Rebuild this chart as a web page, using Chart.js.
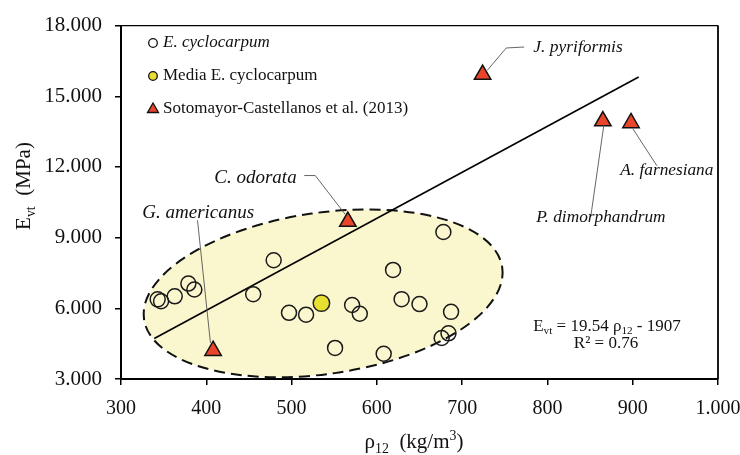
<!DOCTYPE html>
<html><head><meta charset="utf-8">
<script src="https://cdn.jsdelivr.net/npm/chart.js@4.4.1/dist/chart.umd.min.js"></script>
<style>html,body{margin:0;padding:0;background:#fff;}#wrap{width:740px;height:455px;}</style>
</head><body><div id="wrap"><canvas id="c" width="740" height="455"></canvas></div>
<script>
// ---- data ----
const cycloX = [343, 347, 363, 379, 386, 455, 479, 497, 517, 571, 580, 551, 619, 629, 650, 608, 678, 687, 684, 676];
const cycloY = [6380, 6300, 6510, 7050, 6800, 6600, 8040, 5810, 5730, 6140, 5770, 4320, 7630, 6390, 6180, 4070, 9240, 5850, 4940, 4740];
const mediaX = [535];
const mediaY = [6220];
const sotoNames = ['G. americanus', 'C. odorata', 'J. pyriformis', 'P. dimorphandrum', 'A. farnesiana'];
const sotoX = [408, 566, 724, 865, 898];
const sotoY = [4200, 9680, 15920, 13950, 13870];
const fitX = [339, 907];
const fitY = [4717, 15816];
const xTicks = [300, 400, 500, 600, 700, 800, 900, 1000];
const xTickLabels = ['300', '400', '500', '600', '700', '800', '900', '1.000'];
const yTicks = [3000, 6000, 9000, 12000, 15000, 18000];
const yTickLabels = ['3.000', '6.000', '9.000', '12.000', '15.000', '18.000'];
const legendLabels = ['E. cyclocarpum', 'Media E. cyclocarpum', 'Sotomayor-Castellanos et al. (2013)'];

// ---- annotation layout (data units) ----
const FONT = '"Liberation Serif", "Times New Roman", Times, serif';
const ELLIPSE = { center: [537, 6636], major: [747, 7736], minor: [551.5, 10017] };
const NOTES = [
  { text: sotoNames[0], size: 19, at: [325, 10066], path: [[389.7, 9736], [404.9, 4529]] },
  { text: sotoNames[1], size: 19, at: [409.4, 11512], path: [[514.9, 11636], [527.8, 11636], [563, 9983]] },
  { text: sotoNames[2], size: 17.5, at: [783.4, 17091], path: [[729.4, 16099], [751.7, 17050], [772.8, 17091]] },
  { text: sotoNames[3], size: 17.3, at: [786.9, 9860], path: [[866.2, 13785], [851, 9942]] },
  { text: sotoNames[4], size: 17.3, at: [885.4, 11843], path: [[900.2, 13620], [928.4, 12050]] }
];

function P(chart, x, y) { return [chart.scales.x.getPixelForValue(x), chart.scales.y.getPixelForValue(y)]; }

function drawRuns(ctx, runs, x, y, size, style, align) {
  let total = 0;
  const parts = runs.map(([t, k]) => {
    const s = k === 'n' ? size : size * 0.66;
    ctx.font = `${style} ${s}px ${FONT}`;
    const w = ctx.measureText(t).width;
    total += w;
    return { t, k, s, w };
  });
  let cx = align === 'center' ? x - total / 2 : x;
  ctx.textBaseline = 'alphabetic';
  ctx.textAlign = 'left';
  const base = y + size * 0.33;
  parts.forEach(p => {
    ctx.font = `${style} ${p.s}px ${FONT}`;
    const dy = p.k === 'sub' ? size * 0.22 : (p.k === 'sup' ? -size * 0.36 : 0);
    ctx.fillText(p.t, cx, base + dy);
    cx += p.w;
  });
}

const decor = {
  id: 'decor',
  beforeDatasetsDraw(chart) {
    const ctx = chart.ctx;
    const [cx, cy] = P(chart, ELLIPSE.center[0], ELLIPSE.center[1]);
    const [mx, my] = P(chart, ELLIPSE.major[0], ELLIPSE.major[1]);
    const [nx, ny] = P(chart, ELLIPSE.minor[0], ELLIPSE.minor[1]);
    const a = Math.hypot(mx - cx, my - cy), b = Math.hypot(nx - cx, ny - cy);
    const ang = Math.atan2(my - cy, mx - cx);
    ctx.save();
    ctx.beginPath();
    ctx.ellipse(cx, cy, a, b, ang, 0, Math.PI * 2);
    ctx.fillStyle = '#FAF7CE';
    ctx.fill();
    ctx.setLineDash([11, 6]);
    ctx.lineWidth = 2;
    ctx.strokeStyle = '#111';
    ctx.stroke();
    ctx.restore();
  },
  afterDatasetsDraw(chart) {
    const ctx = chart.ctx;
    const ca = chart.chartArea;
    ctx.save();
    // frame top/right
    ctx.strokeStyle = '#000';
    ctx.lineWidth = 1.3;
    ctx.beginPath();
    ctx.moveTo(ca.left, ca.top); ctx.lineTo(ca.right, ca.top);
    ctx.stroke();
    ctx.lineWidth = 1.8;
    ctx.beginPath();
    ctx.moveTo(ca.right, ca.top); ctx.lineTo(ca.right, ca.bottom);
    ctx.stroke();
    // annotation leaders & labels
    NOTES.forEach(n => {
      ctx.beginPath();
      n.path.forEach((pt, i) => {
        const [x, y] = P(chart, pt[0], pt[1]);
        if (i === 0) ctx.moveTo(x, y); else ctx.lineTo(x, y);
      });
      ctx.strokeStyle = '#555';
      ctx.lineWidth = 0.9;
      ctx.stroke();
      const [tx, ty] = P(chart, n.at[0], n.at[1]);
      ctx.fillStyle = '#111';
      ctx.font = `italic ${n.size}px ${FONT}`;
      ctx.textAlign = 'left';
      ctx.textBaseline = 'middle';
      ctx.fillText(n.text, tx, ty);
    });
    // legend
    const lx = 153, ly = [43, 76, 109];
    ctx.lineWidth = 1.3;
    ctx.strokeStyle = '#111';
    ctx.beginPath(); ctx.arc(lx, ly[0], 4.3, 0, Math.PI * 2); ctx.fillStyle = '#fff'; ctx.fill(); ctx.stroke();
    ctx.beginPath(); ctx.arc(lx, ly[1], 4.3, 0, Math.PI * 2); ctx.fillStyle = '#E8E030'; ctx.fill(); ctx.stroke();
    ctx.beginPath(); ctx.moveTo(lx, ly[2] - 6); ctx.lineTo(lx + 5.5, ly[2] + 3.5); ctx.lineTo(lx - 5.5, ly[2] + 3.5); ctx.closePath();
    ctx.fillStyle = '#E8452A'; ctx.fill(); ctx.stroke();
    ctx.fillStyle = '#111';
    ctx.textAlign = 'left'; ctx.textBaseline = 'middle';
    ctx.font = `italic 17px ${FONT}`; ctx.fillText(legendLabels[0], 163, ly[0]);
    ctx.font = `17px ${FONT}`; ctx.fillText(legendLabels[1], 163, ly[1]);
    ctx.fillText(legendLabels[2], 163, ly[2]);
    // equation
    ctx.fillStyle = '#111';
    drawRuns(ctx, [['E', 'n'], ['vt', 'sub'], [' = 19.54 ρ', 'n'], ['12', 'sub'], [' - 1907', 'n']], 607, 325, 17, '', 'center');
    drawRuns(ctx, [['R² = 0.76', 'n']], 606, 342, 17, '', 'center');
    // axis titles
    drawRuns(ctx, [['ρ', 'n'], ['12', 'sub'], ['  (kg/m', 'n'], ['3', 'sup'], [')', 'n']], 414, 441, 21, '', 'center');
    ctx.save();
    ctx.translate(23, 186);
    ctx.rotate(-Math.PI / 2);
    drawRuns(ctx, [['E', 'n'], ['vt', 'sub'], ['  (MPa)', 'n']], 0, 0, 21, '', 'center');
    ctx.restore();
    ctx.restore();
  }
};

const pts = (xs, ys) => xs.map((x, i) => ({ x, y: ys[i] }));

new Chart(document.getElementById('c'), {
  type: 'scatter',
  data: {
    datasets: [
      { label: legendLabels[2], data: pts(sotoX, sotoY), pointStyle: 'triangle', pointRadius: 9.5,
        backgroundColor: '#E8452A', borderColor: '#111', borderWidth: 1.5 },
      { label: legendLabels[1], data: pts(mediaX, mediaY), pointRadius: 8.2,
        backgroundColor: '#E8E030', borderColor: '#222', borderWidth: 1.5 },
      { label: legendLabels[0], data: pts(cycloX, cycloY), pointRadius: 7.5,
        backgroundColor: 'rgba(0,0,0,0)', borderColor: '#1a1a1a', borderWidth: 1.5 },
      { type: 'line', label: 'fit', data: pts(fitX, fitY), borderColor: '#000', borderWidth: 1.6,
        pointRadius: 0, fill: false, tension: 0 }
    ]
  },
  options: {
    responsive: false, animation: false, events: [],
    layout: { padding: { top: 16, right: 22, left: 0, bottom: 0 } },
    plugins: { legend: { display: false }, tooltip: { enabled: false } },
    scales: {
      x: {
        type: 'linear', min: 300, max: 1000,
        afterBuildTicks: s => { s.ticks = xTicks.map(v => ({ value: v })); },
        afterFit: s => { s.height = 76; s.paddingLeft = 0; s.paddingRight = 0; },
        ticks: { callback: v => xTickLabels[xTicks.indexOf(v)], color: '#111', padding: 12,
                 font: { family: FONT, size: 20 }, maxRotation: 0, autoSkip: false },
        grid: { drawOnChartArea: false, drawTicks: true, tickLength: 6, color: '#000', lineWidth: 1.5 },
        border: { display: true, color: '#000', width: 2 }
      },
      y: {
        type: 'linear', min: 3000, max: 18000,
        afterBuildTicks: s => { s.ticks = yTicks.map(v => ({ value: v })); },
        afterFit: s => { s.width = 121; },
        ticks: { callback: v => yTickLabels[yTicks.indexOf(v)], color: '#111', padding: 13,
                 font: { family: FONT, size: 21 }, autoSkip: false },
        grid: { drawOnChartArea: false, drawTicks: true, tickLength: 6, color: '#000', lineWidth: 1.5 },
        border: { display: true, color: '#000', width: 2 }
      }
    }
  },
  plugins: [decor]
});
</script>
</body></html>
